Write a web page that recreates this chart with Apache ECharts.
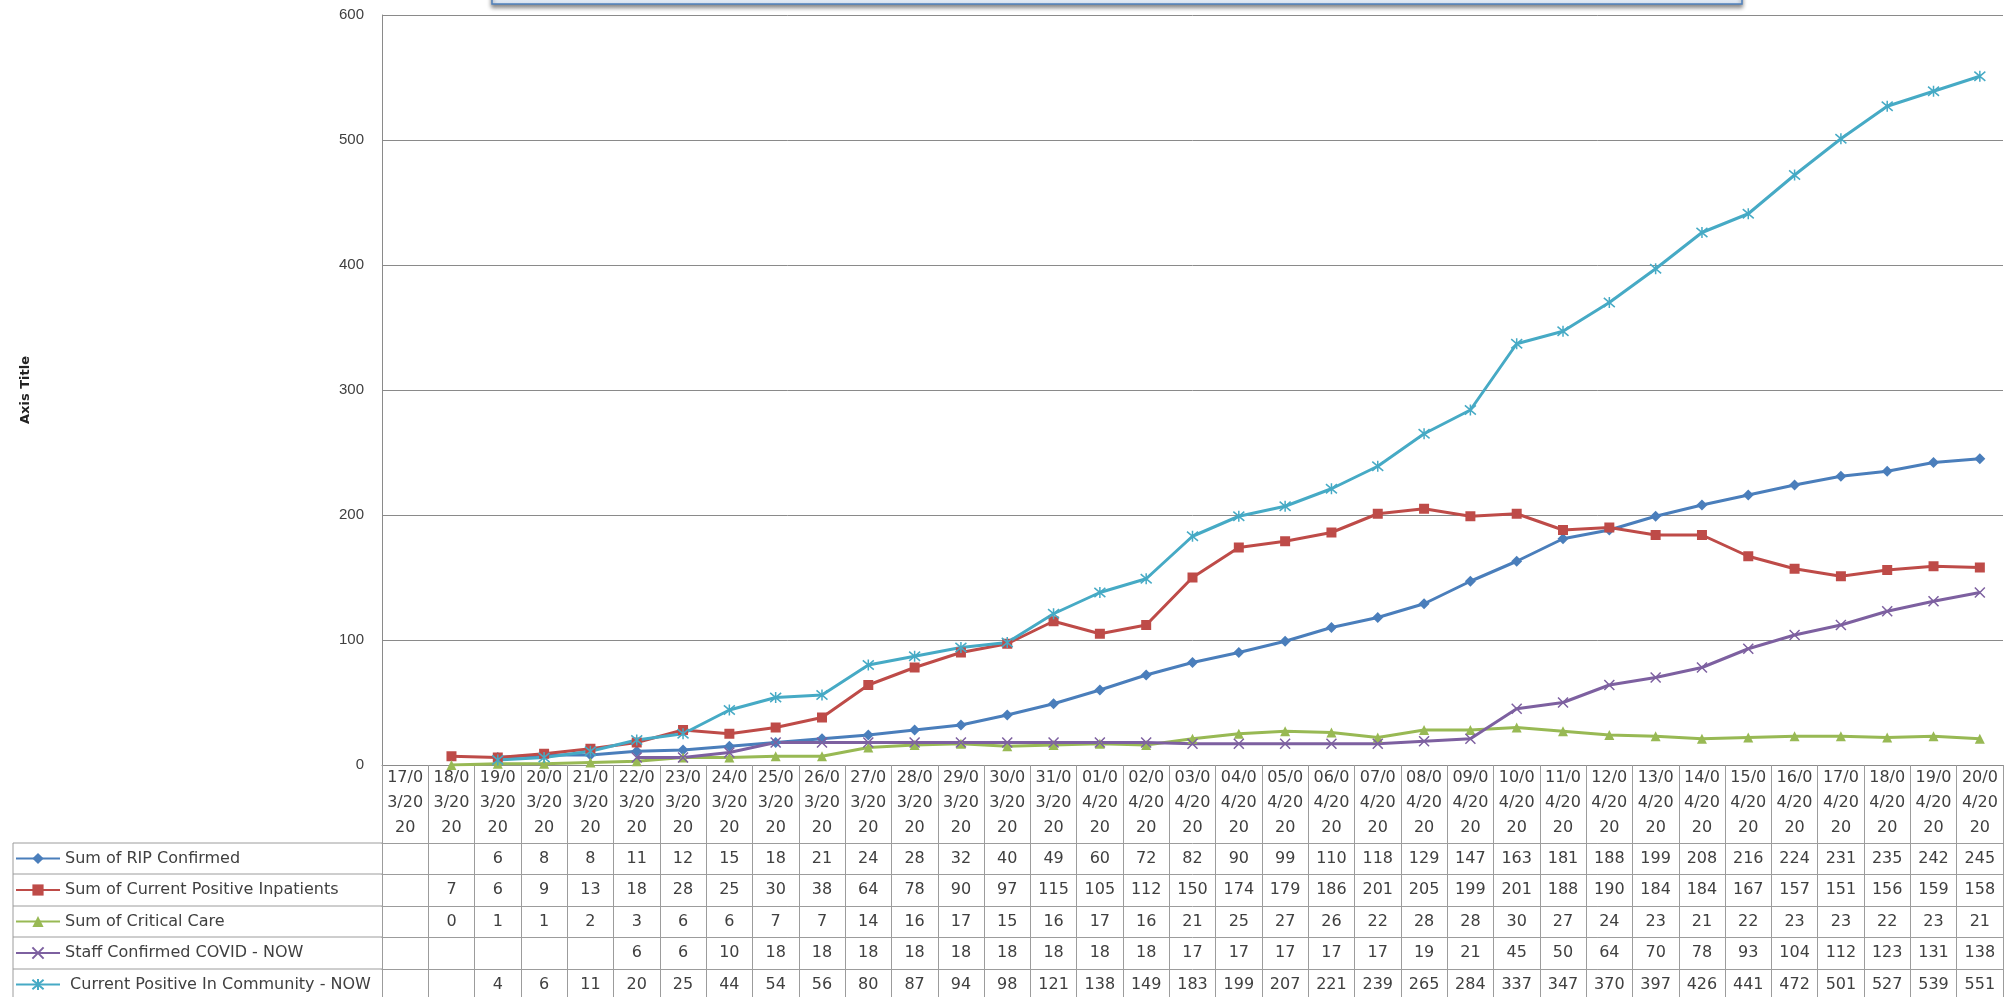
<!DOCTYPE html>
<html>
<head>
<meta charset="utf-8">
<script src="https://cdn.jsdelivr.net/npm/echarts@6/dist/echarts.min.js"></script>
<style>
html,body{margin:0;padding:0;background:#fff;}
#chart{width:2016px;height:997px;}
</style>
</head>
<body>
<div id="chart"></div>
<script>
const dates = ['17/03/2020','18/03/2020','19/03/2020','20/03/2020','21/03/2020','22/03/2020','23/03/2020','24/03/2020','25/03/2020','26/03/2020','27/03/2020','28/03/2020','29/03/2020','30/03/2020','31/03/2020','01/04/2020','02/04/2020','03/04/2020','04/04/2020','05/04/2020','06/04/2020','07/04/2020','08/04/2020','09/04/2020','10/04/2020','11/04/2020','12/04/2020','13/04/2020','14/04/2020','15/04/2020','16/04/2020','17/04/2020','18/04/2020','19/04/2020','20/04/2020'];
const ripConfirmed = [null,null,6,8,8,11,12,15,18,21,24,28,32,40,49,60,72,82,90,99,110,118,129,147,163,181,188,199,208,216,224,231,235,242,245];
const inpatients = [null,7,6,9,13,18,28,25,30,38,64,78,90,97,115,105,112,150,174,179,186,201,205,199,201,188,190,184,184,167,157,151,156,159,158];
const criticalCare = [null,0,1,1,2,3,6,6,7,7,14,16,17,15,16,17,16,21,25,27,26,22,28,28,30,27,24,23,21,22,23,23,22,23,21];
const staffCovid = [null,null,null,null,null,6,6,10,18,18,18,18,18,18,18,18,18,17,17,17,17,17,19,21,45,50,64,70,78,93,104,112,123,131,138];
const community = [null,null,4,6,11,20,25,44,54,56,80,87,94,98,121,138,149,183,199,207,221,239,265,284,337,347,370,397,426,441,472,501,527,539,551];
const seriesNames = ['Sum of RIP Confirmed','Sum of Current Positive Inpatients','Sum of Critical Care','Staff Confirmed COVID - NOW',' Current Positive In Community - NOW'];
const yTicks = [0,100,200,300,400,500,600];

const seriesData = [ripConfirmed, inpatients, criticalCare, staffCovid, community];
const colors = ['#4A7EBB','#BE4B48','#98B954','#7D60A0','#46AAC5'];
const symbols = ['diamond','rect','triangle','path://M0,0L10,10M10,0L0,10','path://M0,0L10,10M10,0L0,10M5,-1L5,11'];
const symbolSizes = [11,10,10,10,11];

const FONT = "'DejaVu Sans','Liberation Sans',sans-serif";
const YFONT = "'Liberation Sans','DejaVu Sans',sans-serif";
const GRID_LEFT = 382, GRID_RIGHT = 13, GRID_TOP = 15, GRID_BOTTOM = 232;
const AXIS_Y = 997 - GRID_BOTTOM;
const rowOffsets = [78,109,141,172,204];
const tableLine = '#9c9c9c';

const chart = echarts.init(document.getElementById('chart'));

const xAxes = [{
  type: 'category',
  data: dates,
  boundaryGap: true,
  axisLine: {show: true, lineStyle: {color: '#8a8a8a', width: 1}},
  axisTick: {show: true, interval: 0, length: GRID_BOTTOM, lineStyle: {color: tableLine}},
  axisLabel: {
    interval: 0, margin: 0, color: '#404040', fontFamily: FONT, fontSize: 16, lineHeight: 25,
    formatter: v => v.slice(0,4) + '\n' + v.slice(4,8) + '\n' + v.slice(8)
  },
  splitLine: {show: false}
}];
seriesData.forEach((arr, k) => {
  xAxes.push({
    type: 'category',
    data: dates,
    position: 'bottom',
    offset: rowOffsets[k],
    boundaryGap: true,
    axisLine: {show: true, lineStyle: {color: tableLine, width: 1}},
    axisTick: {show: false},
    axisLabel: {
      interval: 0, margin: 7, color: '#404040', fontFamily: FONT, fontSize: 16, lineHeight: 18,
      formatter: (v, i) => arr[i] == null ? '' : String(arr[i])
    },
    splitLine: {show: false}
  });
});

const series = seriesData.map((arr, k) => ({
  name: seriesNames[k],
  type: 'line',
  xAxisIndex: 0,
  data: arr,
  symbol: symbols[k],
  symbolSize: symbolSizes[k],
  showAllSymbol: true,
  connectNulls: false,
  lineStyle: {color: colors[k], width: 3},
  itemStyle: {color: colors[k], borderColor: colors[k], borderWidth: k >= 3 ? 1.5 : 0},
  emphasis: {disabled: true},
  animation: false
}));

const extraGraphics = [];
rowOffsets.forEach(o => {
  extraGraphics.push({type: 'line', shape: {x1: 13, y1: AXIS_Y + o, x2: GRID_LEFT, y2: AXIS_Y + o}, style: {stroke: tableLine, lineWidth: 1}, silent: true});
});
extraGraphics.push({type: 'line', shape: {x1: 13, y1: AXIS_Y + rowOffsets[0], x2: 13, y2: 997}, style: {stroke: tableLine, lineWidth: 1}, silent: true});
extraGraphics.push({
  type: 'rect', shape: {x: 492, y: -30, width: 1250, height: 34},
  style: {fill: {type: 'linear', x: 0, y: 0, x2: 0, y2: 1, colorStops: [{offset: 0, color: '#ffffff'}, {offset: 1, color: '#dce6f2'}]},
    stroke: '#4F81BD', lineWidth: 1.5, shadowBlur: 4, shadowOffsetY: 3, shadowColor: 'rgba(0,0,0,0.45)'},
  silent: true
});

chart.setOption({
  backgroundColor: '#ffffff',
  animation: false,
  grid: {left: GRID_LEFT, right: GRID_RIGHT, top: GRID_TOP, bottom: GRID_BOTTOM, containLabel: false},
  legend: {
    data: seriesNames,
    orient: 'vertical',
    left: 15,
    top: 849.5,
    padding: 0,
    itemWidth: 44,
    itemHeight: 14,
    itemGap: 13.5,
    textStyle: {color: '#404040', fontFamily: FONT, fontSize: 16, lineHeight: 18},
    selectedMode: false
  },
  xAxis: xAxes,
  yAxis: {
    type: 'value',
    min: 0, max: 600, interval: 100,
    name: 'Axis Title',
    nameLocation: 'middle',
    nameGap: 350,
    nameTextStyle: {fontFamily: FONT, fontSize: 13, fontWeight: 'bold', color: '#222'},
    axisLine: {show: true, lineStyle: {color: '#8a8a8a'}},
    axisTick: {show: false},
    axisLabel: {color: '#404040', fontFamily: YFONT, fontSize: 15, margin: 18, formatter: v => yTicks.includes(v) ? String(v) : ''},
    splitLine: {show: true, lineStyle: {color: '#8a8a8a', width: 1}}
  },
  graphic: extraGraphics,
  series: series
});
</script>
</body>
</html>
